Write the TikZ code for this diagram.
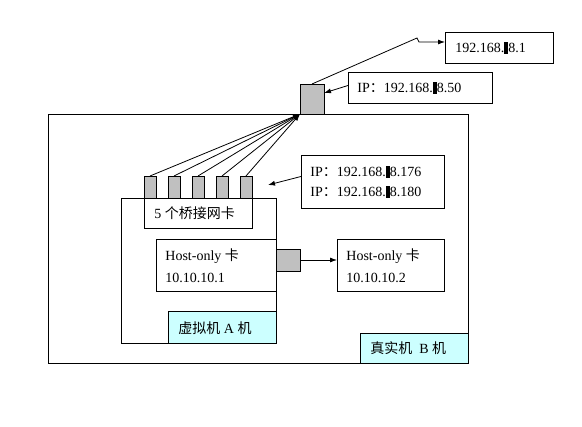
\documentclass[tikz,border=0pt]{standalone}
\usepackage{fontspec}
\setmainfont{Liberation Serif}
\newfontfamily\cjk{Noto Sans CJK SC}
\usetikzlibrary{arrows.meta}
\definecolor{paleCyan}{RGB}{204,255,255}
\definecolor{nicGray}{RGB}{192,192,192}
\newcommand{\blot}{\rule[-1pt]{4pt}{12pt}}
\begin{document}
\begin{tikzpicture}[x=1pt,y=-1pt,line width=.8pt,font=\fontsize{14}{16}\selectfont,
		frame/.style={draw,fill=white,anchor=north west,inner sep=0pt,outer sep=0pt},
		port/.style={frame,fill=nicGray},
		tag/.style={frame,fill=paleCyan},
		txt/.style={anchor=west,inner sep=0pt},
		link/.style={-{Latex[length=7pt,width=5pt]}}]
	\useasboundingbox (0,0) rectangle (582,427);
	% real machine B
	\node[frame,minimum width=420pt,minimum height=249pt] (real) at (48,114) {};
	\node[tag,minimum width=108pt,minimum height=30pt] (realtag) at (360,333) {};
	\node[txt] (realtxt) at (370,348) {{\cjk 真实机}\ \ B {\cjk 机}};
	% virtual machine A
	\node[frame,minimum width=155pt,minimum height=145pt] (vm) at (121,198) {};
	\node[tag,minimum width=108pt,minimum height=32pt] (vmtag) at (168,311) {};
	\node[txt] (vmtxt) at (178,328) {{\cjk 虚拟机} A {\cjk 机}};
	% bridged cards
	\node[frame,minimum width=108pt,minimum height=30pt] (bridge) at (144,198) {};
	\node[txt] (bridgetxt) at (154,213) {5 {\cjk 个桥接网卡}};
	\foreach \i/\x in {1/144,2/168,3/192,4/216,5/240}
		\node[port,minimum width=12pt,minimum height=22pt] (p\i) at (\x,176) {};
	% host-only cards
	\node[frame,minimum width=120pt,minimum height=52pt] (hostA) at (156,239) {};
	\node[txt] (hostAname) at (165,256) {Host-only {\cjk 卡}};
	\node[txt] (hostAip) at (165,278) {10.10.10.1};
	\node[port,minimum width=24pt,minimum height=22pt] (hp) at (276,249) {};
	\node[frame,minimum width=107pt,minimum height=52pt] (hostB) at (337,239) {};
	\node[txt] (hostBname) at (346,256) {Host-only {\cjk 卡}};
	\node[txt] (hostBip) at (346,278) {10.10.10.2};
	% uplink and addresses
	\node[port,minimum width=24pt,minimum height=30pt] (up) at (300,84) {};
	\node[frame,minimum width=143pt,minimum height=53pt] (ipA) at (301,155) {};
	\node[txt] (ipAone) at (310,172) {IP{\cjk ：}192.168.\blot8.176};
	\node[txt] (ipAtwo) at (310,192) {IP{\cjk ：}192.168.\blot8.180};
	\node[frame,minimum width=144pt,minimum height=31pt] (ipUp) at (348,72) {};
	\node[txt] (ipUptxt) at (357,88) {IP{\cjk ：}192.168.\blot8.50};
	\node[frame,minimum width=108pt,minimum height=31pt] (gw) at (445,32) {};
	\node[txt] (gwtxt) at (455,48) {192.168.\blot8.1};
	\coordinate (ipTip) at (268,185);
	\coordinate (bend) at (417,38);
	% connectors
	\foreach \i in {1,...,5}
		\draw[link] (p\i.north) -- (up.south west);
	\draw[link] (hp.east) -- (hp.east -| hostB.west);
	\draw[link] ([yshift=5pt]ipA.west) -- (ipTip);
	\draw[link] ([yshift=2pt]ipUp.west) -- ([yshift=-9pt]up.north east);
	\draw[link] (up.north) -- (bend) -- ++(2,4) -- ([yshift=5.5pt]gw.west);
\end{tikzpicture}
\end{document}
